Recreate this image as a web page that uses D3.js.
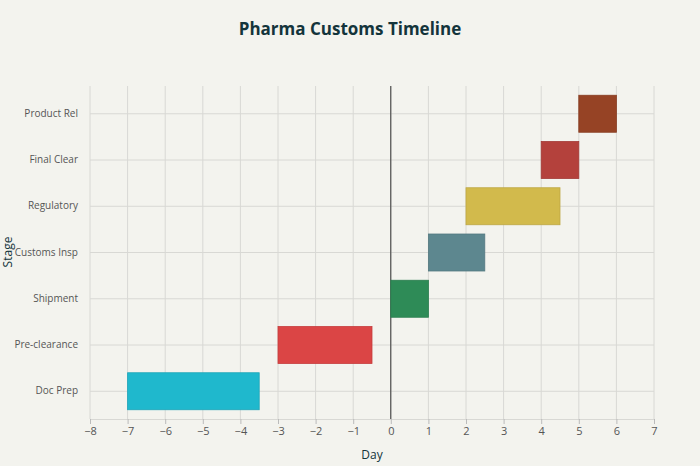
<!DOCTYPE html><html><head><meta charset="utf-8">
<script src="https://cdn.jsdelivr.net/npm/d3@7"></script>
<style>body{margin:0;background:#F3F3EE}text{font-family:"Open Sans",sans-serif}</style></head><body>
<svg id="c" width="700" height="466"></svg>
<script>
const stages=["Doc Prep","Pre-clearance","Shipment","Customs Insp","Regulatory","Final Clear","Product Rel"];
const starts=[-7,-3,0,1,2,4,5];
const ends=[-3.5,-0.5,1,2.5,4.5,5,6];
const colors=["#1FB8CD","#DB4545","#2E8B57","#5D878F","#D2BA4C","#B4413C","#964325"];
const xticks=d3.range(-8,8);
const svg=d3.select("#c");
svg.append("rect").attr("width",700).attr("height",466).attr("fill","#F3F3EE");
const x=d3.scaleLinear().domain([-8,7]).range([90,654]);
const y=d3.scaleBand().domain(stages).range([419,86]).padding(0.2);
const g=svg.append("g");
g.selectAll(".vg").data(xticks).join("line").attr("x1",d=>x(d)).attr("x2",d=>x(d)).attr("y1",86).attr("y2",419).attr("stroke","#d8d8d4").attr("stroke-width",1);
g.selectAll(".hg").data(stages).join("line").attr("x1",90).attr("x2",654).attr("y1",d=>y(d)+y.bandwidth()/2).attr("y2",d=>y(d)+y.bandwidth()/2).attr("stroke","#d8d8d4");
g.append("line").attr("x1",x(0)).attr("x2",x(0)).attr("y1",86).attr("y2",419).attr("stroke","#333").attr("stroke-width",1);
g.selectAll(".bar").data(stages).join("rect").attr("x",(d,i)=>x(starts[i])).attr("width",(d,i)=>x(ends[i])-x(starts[i])).attr("y",d=>y(d)).attr("height",y.bandwidth()).attr("fill",(d,i)=>colors[i]).attr("stroke",(d,i)=>d3.color(colors[i]).darker(0.3)).attr("stroke-width",0.8);
const xa=svg.append("g").attr("transform","translate(0,419)").call(d3.axisBottom(x).tickValues(xticks).tickFormat(d=>d<0?"\u2212"+(-d):d).tickSize(5));
xa.select(".domain").attr("stroke","#d8d8d4");xa.selectAll("line").attr("stroke","#bbb");
xa.selectAll("text").attr("fill","#555").attr("font-size",11).attr("font-family","Open Sans");
const ya=svg.append("g").attr("transform","translate(90,0)").call(d3.axisLeft(y).tickSize(0).tickPadding(6));
ya.select(".domain").remove();
ya.selectAll("text").attr("fill","#555").attr("font-size",10).attr("font-family","Open Sans").attr("dx",-0);
ya.attr("transform","translate(84,0)");
svg.append("text").attr("x",350).attr("y",35).attr("text-anchor","middle").attr("font-size",17).attr("font-weight","bold").attr("fill","#13343B").text("Pharma Customs Timeline");
svg.append("text").attr("x",372).attr("y",459).attr("text-anchor","middle").attr("font-size",12).attr("fill","#13343B").text("Day");
svg.append("text").attr("transform","translate(12,252) rotate(-90)").attr("text-anchor","middle").attr("font-size",12).attr("fill","#13343B").text("Stage");
</script></body></html>
